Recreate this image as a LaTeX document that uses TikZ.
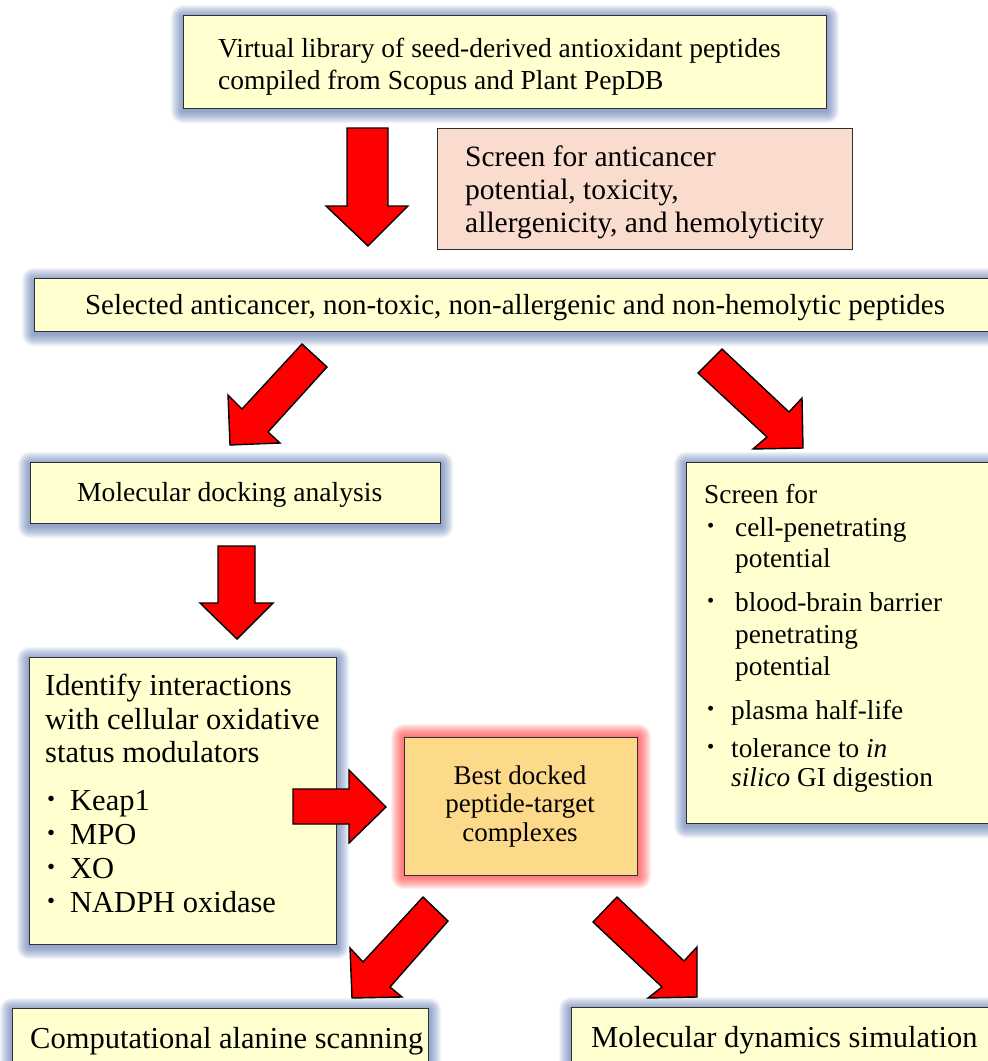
\documentclass[tikz,border=0pt]{standalone}
\usepackage{fontspec}
\setmainfont{Liberation Serif}
\usetikzlibrary{backgrounds}
\definecolor{boxyellow}{HTML}{FFFFCF}
\definecolor{boxpink}{HTML}{F9DCCD}
\definecolor{boxorange}{HTML}{FDD98A}
\definecolor{glowblue}{HTML}{4A68A8}
\definecolor{glowred}{HTML}{FF3535}
\definecolor{arrowred}{HTML}{FF0000}
\definecolor{edgegray}{HTML}{303030}
\newcommand\bul{\raisebox{0.12em}{\scalebox{0.75}{\textbullet}}}
\tikzset{
  box/.style={draw=edgegray, line width=1.1pt, fill=boxyellow, anchor=north west, inner sep=0pt},
  blockarrow/.style={draw=black, line width=1.4pt, fill=arrowred, line join=miter},
  txt/.style={anchor=base west, align=left, inner sep=0pt},
  ctxt/.style={anchor=base, align=center, inner sep=0pt},
}
\begin{document}
\begin{tikzpicture}[x=1pt,y=-1pt]
\clip (0,0) rectangle (988,1061);

% boxes
\node[box, minimum width=643pt, minimum height=93pt] (top) at (183,15) {};
\node[box, fill=boxpink, minimum width=415pt, minimum height=121pt] (scr) at (437,128) {};
\node[box, minimum width=970pt, minimum height=53pt] (sel) at (34,278) {};
\node[box, minimum width=410pt, minimum height=61pt] (dock) at (30,462) {};
\node[box, minimum width=320pt, minimum height=361pt] (prop) at (686,462) {};
\node[box, minimum width=307pt, minimum height=287pt] (ident) at (29,657) {};
\node[box, fill=boxorange, minimum width=233pt, minimum height=138pt] (best) at (404,737) {};
\node[box, minimum width=416pt, minimum height=70pt] (ala) at (12,1008) {};
\node[box, minimum width=430pt, minimum height=70pt] (md) at (571,1007) {};

% background and glows
\begin{scope}[on background layer]
\fill[white] (0,0) rectangle (988,1061);
\foreach \n in {top,sel,dock,prop,ident,ala,md}{
  \foreach \r in {1,...,12}{
    \fill[glowblue, opacity=0.065, rounded corners=\r pt]
      ([shift={({-\r pt},{\r pt-2pt})}]\n.north west) rectangle ([shift={({\r pt},{-\r pt-2pt})}]\n.south east);
  }
}
\foreach \r in {1,...,13}{
  \fill[glowred, opacity=0.075, rounded corners=\r pt]
    ([shift={({-\r pt},{\r pt})}]best.north west) rectangle ([shift={({\r pt},{-\r pt})}]best.south east);
}
\end{scope}

% texts (multi-line nodes are placed by the baseline of their last line)
\node[txt, font=\fontsize{27.5}{32}\selectfont] (topt) at (218,89)
  {Virtual library of seed-derived antioxidant peptides\\compiled from Scopus and Plant PepDB};
\node[txt, font=\fontsize{29.5}{33}\selectfont] (scrt) at (465,232)
  {Screen for anticancer\\potential, toxicity,\\allergenicity, and hemolyticity};
\node[ctxt, font=\fontsize{29}{33}\selectfont] (selt) at (515,314)
  {Selected anticancer, non-toxic, non-allergenic and non-hemolytic peptides};
\node[txt, font=\fontsize{27.6}{32}\selectfont] (dockt) at (77,501)
  {Molecular docking analysis};
\node[txt, font=\fontsize{27.3}{32}\selectfont] (propt) at (704,786)
  {Screen for\\[1pt]
   \makebox[31pt][l]{\hspace{3pt}\bul}cell-penetrating\\[-1pt]
   \hspace*{31pt}potential\\[12pt]
   \makebox[31pt][l]{\hspace{3pt}\bul}blood-brain barrier\\
   \hspace*{31pt}penetrating\\
   \hspace*{31pt}potential\\[12pt]
   \makebox[27pt][l]{\hspace{3pt}\bul}plasma half-life\\[6pt]
   \makebox[27pt][l]{\hspace{3pt}\bul}tolerance to \textit{in}\\[-3pt]
   \hspace*{27pt}\textit{silico} GI digestion};
\node[txt, font=\fontsize{30.5}{33.5}\selectfont] (identt) at (45,912)
  {Identify interactions\\with cellular oxidative\\status modulators\\[14pt]
   \makebox[25pt][l]{\hspace{2pt}\bul}Keap1\\[0.5pt]
   \makebox[25pt][l]{\hspace{2pt}\bul}MPO\\[0.5pt]
   \makebox[25pt][l]{\hspace{2pt}\bul}XO\\[0.5pt]
   \makebox[25pt][l]{\hspace{2pt}\bul}NADPH oxidase};
\node[ctxt, font=\fontsize{27}{28.5}\selectfont] (bestt) at (520,841)
  {Best docked\\peptide-target\\complexes};
\node[txt, font=\fontsize{30.5}{33}\selectfont] (alat) at (30,1048)
  {Computational alanine scanning};
\node[txt, font=\fontsize{30.5}{33}\selectfont] (mdt) at (591,1047)
  {Molecular dynamics simulation};

% block arrows
\draw[blockarrow] (347,128) -- (388,128) -- (388,206) -- (408,206) -- (368,246) -- (326,206) -- (347,206) -- cycle;
\draw[blockarrow] (302,344) -- (327,367) -- (268,432) -- (280,443) -- (230,445) -- (228,395) -- (242,409) -- cycle;
\draw[blockarrow] (722,349) -- (789,412) -- (802,398) -- (803,448) -- (753,449) -- (767,437) -- (698,373) -- cycle;
\draw[blockarrow] (218,546) -- (255,546) -- (255,603) -- (273,603) -- (237,639) -- (200,603) -- (218,603) -- cycle;
\draw[blockarrow] (293,789) -- (349,789) -- (349,770) -- (386,807) -- (349,843) -- (349,824) -- (293,824) -- cycle;
\draw[blockarrow] (423,897) -- (448,921) -- (390,987) -- (402,997) -- (352,998) -- (350,948) -- (363,962) -- cycle;
\draw[blockarrow] (617,897) -- (684,961) -- (697,947) -- (697,997) -- (648,998) -- (662,987) -- (593,922) -- cycle;
\end{tikzpicture}
\end{document}
